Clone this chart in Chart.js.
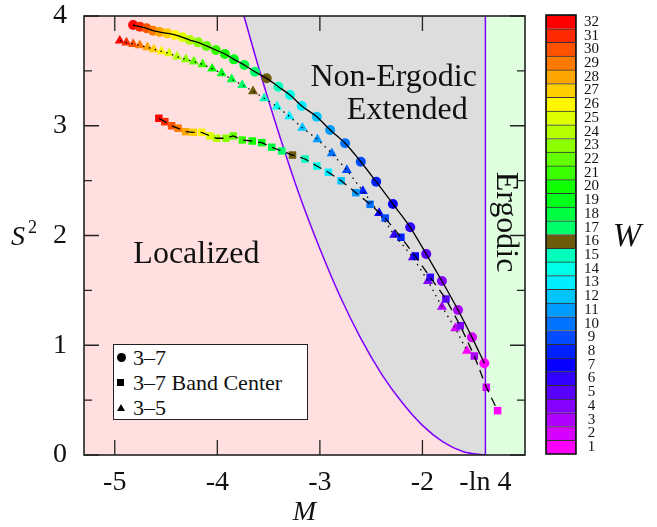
<!DOCTYPE html>
<html>
<head>
<meta charset="utf-8">
<script src="https://cdn.jsdelivr.net/npm/chart.js@4.4.0/dist/chart.umd.min.js"></script>
<style>
body{margin:0;background:#fff;}
#wrap{position:relative;width:657px;height:527px;}
#grafico{position:absolute;left:0;top:0;}
#barra{position:absolute;left:530px;top:0;}
#leyenda{position:absolute;left:113px;top:344px;width:193px;height:74px;border:1.5px solid #222;background:#fff;
 font-family:"Liberation Serif",serif;font-size:22px;color:#111;}
#leyenda div{height:25px;line-height:25px;position:relative;padding-left:19px;white-space:nowrap;}
#leyenda span{position:absolute;background:#000;}
.circ{left:3px;top:8px;width:9px;height:9px;border-radius:50%;}
.cuad{left:3px;top:9px;width:7px;height:7px;}
.tri{left:3px;top:9px;width:0;height:0;background:transparent!important;border-left:4px solid transparent;border-right:4px solid transparent;border-bottom:7px solid #000;}
</style>
</head>
<body>
<div id="wrap">
 <canvas id="grafico" width="657" height="527"></canvas>
 <canvas id="barra" width="127" height="527"></canvas>
 <div id="leyenda">
  <div><span class="circ"></span>3–7</div>
  <div><span class="cuad"></span>3–7 Band Center</div>
  <div><span class="tri"></span>3–5</div>
 </div>
</div>
<script>
// disorder strength W, from 32 down to 1
var W = [32,31,30,29,28,27,26,25,24,23,22,21,20,19,18,17,16,15,14,13,12,11,10,9,8,7,6,5,4,3,2,1];

// 3-7 (circles)
var circM = [-4.821,-4.756,-4.690,-4.626,-4.561,-4.489,-4.414,-4.339,-4.268,-4.187,-4.105,-4.014,-3.926,-3.838,-3.737,-3.633,
             -3.519,-3.405,-3.291,-3.177,-3.030,-2.900,-2.754,-2.601,-2.451,-2.288,-2.119,-1.963,-1.810,-1.653,-1.517,-1.396];
var circS = [3.918,3.903,3.888,3.866,3.854,3.842,3.827,3.806,3.781,3.760,3.727,3.690,3.654,3.605,3.554,3.492,
             3.432,3.356,3.280,3.180,3.082,2.961,2.840,2.672,2.490,2.287,2.075,1.831,1.585,1.321,1.072,0.836];

// 3-7 band center (squares)
var cuadM = [-4.570,-4.512,-4.446,-4.382,-4.310,-4.235,-4.153,-4.072,-4.007,-3.916,-3.845,-3.757,-3.659,-3.567,-3.470,-3.372,
             -3.267,-3.145,-3.030,-2.917,-2.793,-2.649,-2.510,-2.363,-2.210,-2.070,-1.924,-1.771,-1.631,-1.494,-1.377,-1.267];
var cuadS = [3.068,3.037,3.000,2.977,2.946,2.940,2.940,2.907,2.886,2.886,2.907,2.870,2.861,2.846,2.804,2.770,
             2.733,2.697,2.633,2.576,2.499,2.390,2.284,2.159,1.984,1.813,1.619,1.421,1.178,0.902,0.617,0.404];

// 3-5 (triangles)
var triM = [-4.951,-4.886,-4.821,-4.756,-4.681,-4.619,-4.544,-4.470,-4.392,-4.307,-4.229,-4.144,-4.050,-3.958,-3.860,-3.757,
            -3.652,-3.543,-3.418,-3.298,-3.171,-3.024,-2.884,-2.737,-2.581,-2.422,-2.275,-2.093,-1.946,-1.810,-1.680,-1.566];
var triS = [3.775,3.757,3.745,3.733,3.715,3.697,3.678,3.660,3.629,3.605,3.584,3.560,3.520,3.478,3.423,3.371,
            3.314,3.250,3.174,3.086,2.982,2.877,2.749,2.597,2.405,2.205,2.005,1.801,1.585,1.351,1.154,0.950];

// localized / non-ergodic boundary
var bordeM = [-3.74,-3.6,-3.4,-3.2,-3.0,-2.8,-2.6,-2.4,-2.2,-2.0,-1.8,-1.6,-1.386];
var bordeS = [4.0,3.54,2.93,2.37,1.88,1.44,1.06,0.74,0.48,0.27,0.12,0.03,0];
// ergodic boundary M = -ln 4
var ergM = [-1.386,-1.386];
var ergS = [0,4];

var xTicks = [-5,-4,-3,-2,-1.386];
var xTickLabels = ['-5','-4','-3','-2','-ln 4'];
var yTicks = [0,1,2,3,4];
var yMinor = [0.5,1.5,2.5,3.5];

// colour for each W (index W-1)
var coloresW = ['#FF00FF','#D600FF','#AD00FF','#8400FF','#5A00FF','#3100FF','#0800FF','#0021FF','#004AFF','#0073FF',
                '#009CFF','#00C5FF','#00EEFF','#00FFE6','#00FFBD','#6B5B0B','#00FF6B','#00FF42','#00FF19','#10FF00',
                '#3AFF00','#63FF00','#8CFF00','#B5FF00','#DEFF00','#FFF700','#FFCE00','#FFA500','#FF7B00','#FF5200',
                '#FF2900','#FF0000'];

var serif = '"Liberation Serif", "DejaVu Serif", serif';

function puntos(mx, sy){
	return mx.map(function(m, i){ return {x: m, y: sy[i]}; });
}
var colPuntos = W.map(function(w){ return coloresW[w-1]; });

var fondo = {
	id: 'fondo',
	beforeDatasetsDraw: function(chart){
		var ctx = chart.ctx, a = chart.chartArea, x = chart.scales.x;
		ctx.save();
		ctx.fillStyle = '#ffdfdf';
		ctx.fillRect(a.left, a.top, a.width, a.height);
		var xe = x.getPixelForValue(ergM[0]);
		ctx.fillStyle = '#dfffdf';
		ctx.fillRect(xe, a.top, a.right - xe, a.height);
		ctx.restore();
	},
	afterDatasetsDraw: function(chart){
		var ctx = chart.ctx, a = chart.chartArea, x = chart.scales.x, y = chart.scales.y;
		ctx.save();
		// textos de las regiones
		ctx.fillStyle = '#111';
		ctx.textAlign = 'center';
		ctx.textBaseline = 'alphabetic';
		ctx.font = '32px ' + serif;
		ctx.fillText('Non-Ergodic', x.getPixelForValue(-2.280), y.getPixelForValue(3.36));
		ctx.fillText('Extended', x.getPixelForValue(-2.148), y.getPixelForValue(3.06));
		ctx.fillText('Localized', x.getPixelForValue(-4.204), y.getPixelForValue(1.75));
		ctx.save();
		ctx.translate(x.getPixelForValue(-1.270), y.getPixelForValue(2.123));
		ctx.rotate(Math.PI/2);
		ctx.font = '32px ' + serif;
		ctx.fillText('Ergodic', 0, 0);
		ctx.restore();
		// marcas de los ejes
		ctx.strokeStyle = '#222';
		ctx.lineWidth = 1.3;
		ctx.beginPath();
		xTicks.slice(0,4).forEach(function(v){
			var px = x.getPixelForValue(v);
			ctx.moveTo(px, a.bottom); ctx.lineTo(px, a.bottom - 15);
			ctx.moveTo(px, a.top); ctx.lineTo(px, a.top + 15);
		});
		yTicks.forEach(function(v){
			var py = y.getPixelForValue(v);
			ctx.moveTo(a.left, py); ctx.lineTo(a.left + 15, py);
			ctx.moveTo(a.right, py); ctx.lineTo(a.right - 15, py);
		});
		yMinor.forEach(function(v){
			var py = y.getPixelForValue(v);
			ctx.moveTo(a.left, py); ctx.lineTo(a.left + 8, py);
			ctx.moveTo(a.right, py); ctx.lineTo(a.right - 8, py);
		});
		ctx.stroke();
		ctx.lineWidth = 1.6;
		ctx.strokeRect(a.left, a.top, a.width, a.height);
		// titulos de los ejes
		ctx.fillStyle = '#111';
		ctx.textBaseline = 'middle';
		ctx.font = 'italic 28px ' + serif;
		ctx.fillText('M', (a.left + a.right)/2, 513);
		ctx.textAlign = 'left';
		ctx.fillText('S', 11, 238);
		ctx.font = '18px ' + serif;
		ctx.fillText('2', 28, 228);
		ctx.restore();
	}
};

const ctx = document.getElementById('grafico').getContext('2d');
new Chart(ctx, {
	type: 'scatter',
	data: {
		datasets: [
			{ data: puntos(circM, circS), showLine: true, pointRadius: 0, borderColor: '#000', borderWidth: 1.3,
			  cubicInterpolationMode: 'monotone', order: 1 },
			{ data: puntos(cuadM, cuadS), showLine: true, pointRadius: 0, borderColor: '#000', borderWidth: 1.3,
			  borderDash: [9, 6], order: 1 },
			{ data: puntos(triM, triS), showLine: true, pointRadius: 0, borderColor: '#000', borderWidth: 1.3,
			  borderDash: [1.5, 4.5], order: 1 },
			{ data: puntos(circM, circS), pointStyle: 'circle', pointRadius: 5, pointBorderWidth: 0,
			  pointBackgroundColor: colPuntos, order: 2 },
			{ data: puntos(cuadM, cuadS), pointStyle: 'rect', pointRadius: 5.3, pointBorderWidth: 0,
			  pointBackgroundColor: colPuntos, order: 2 },
			{ data: puntos(triM, triS), pointStyle: 'triangle', pointRadius: 5.8, pointBorderWidth: 0,
			  pointBackgroundColor: colPuntos, order: 2 },
			{ data: puntos(ergM, ergS), showLine: true, pointRadius: 0, borderColor: '#7f00ff', borderWidth: 1.5, order: 4 },
			{ data: puntos(bordeM, bordeS), showLine: true, pointRadius: 0, borderColor: '#7f00ff', borderWidth: 1.5,
			  cubicInterpolationMode: 'monotone', fill: 'end', backgroundColor: '#dddddd', order: 5 }
		]
	},
	options: {
		responsive: false,
		animation: false,
		layout: { padding: { top: 16, right: 132, left: 0, bottom: 0 } },
		plugins: { legend: { display: false }, tooltip: { enabled: false } },
		scales: {
			x: {
				type: 'linear', min: -5.3, max: -1.0,
				grid: { display: false, drawTicks: false }, border: { display: false },
				afterBuildTicks: function(s){ s.ticks = xTicks.map(function(v){ return {value: v}; }); },
				afterFit: function(s){ s.height = 72; s.paddingLeft = 0; s.paddingRight = 0; },
				ticks: { padding: 11, autoSkip: false, maxRotation: 0, color: '#111',
					font: { family: serif, size: 28 },
					callback: function(v, i){ return xTickLabels[i]; } }
			},
			y: {
				type: 'linear', min: 0, max: 4,
				grid: { display: false, drawTicks: false }, border: { display: false },
				afterBuildTicks: function(s){ s.ticks = yTicks.map(function(v){ return {value: v}; }); },
				afterFit: function(s){ s.width = 84; s.paddingTop = 0; s.paddingBottom = 0; },
				ticks: { padding: 17, color: '#111', font: { family: serif, size: 28 } }
			}
		}
	},
	plugins: [fondo]
});

// barra de colores
var Wasc = W.slice().reverse();
var marcoW = {
	id: 'marcoW',
	afterDraw: function(chart){
		var c = chart.ctx, a = chart.chartArea;
		c.save();
		c.strokeStyle = '#111';
		c.lineWidth = 1.6;
		c.strokeRect(a.left, a.top, a.width, a.height);
		c.fillStyle = '#111';
		c.font = 'italic 34px ' + serif;
		c.textAlign = 'center';
		c.textBaseline = 'middle';
		c.fillText('W', 97, 237);
		c.restore();
	}
};
new Chart(document.getElementById('barra').getContext('2d'), {
	type: 'bar',
	data: {
		labels: ['W'],
		datasets: Wasc.map(function(w){
			return { data: [1], backgroundColor: coloresW[w-1], borderColor: '#333', borderWidth: 1,
				barPercentage: 1, categoryPercentage: 1 };
		})
	},
	options: {
		responsive: false,
		animation: false,
		layout: { padding: { top: 15, left: 16, right: 0, bottom: 73 } },
		plugins: { legend: { display: false }, tooltip: { enabled: false } },
		scales: {
			x: { display: false, stacked: true },
			y: {
				stacked: true, position: 'right', min: 0, max: 32,
				grid: { display: false, drawTicks: false }, border: { display: false },
				afterBuildTicks: function(s){ s.ticks = W.map(function(w){ return {value: w - 0.5}; }); },
				afterFit: function(s){ s.width = 81; s.paddingTop = 0; s.paddingBottom = 0; },
				ticks: { padding: 8, crossAlign: 'center', autoSkip: false, color: '#111',
					font: { family: serif, size: 15 },
					callback: function(v){ return String(v + 0.5); } }
			}
		}
	},
	plugins: [marcoW]
});
</script>
</body>
</html>
